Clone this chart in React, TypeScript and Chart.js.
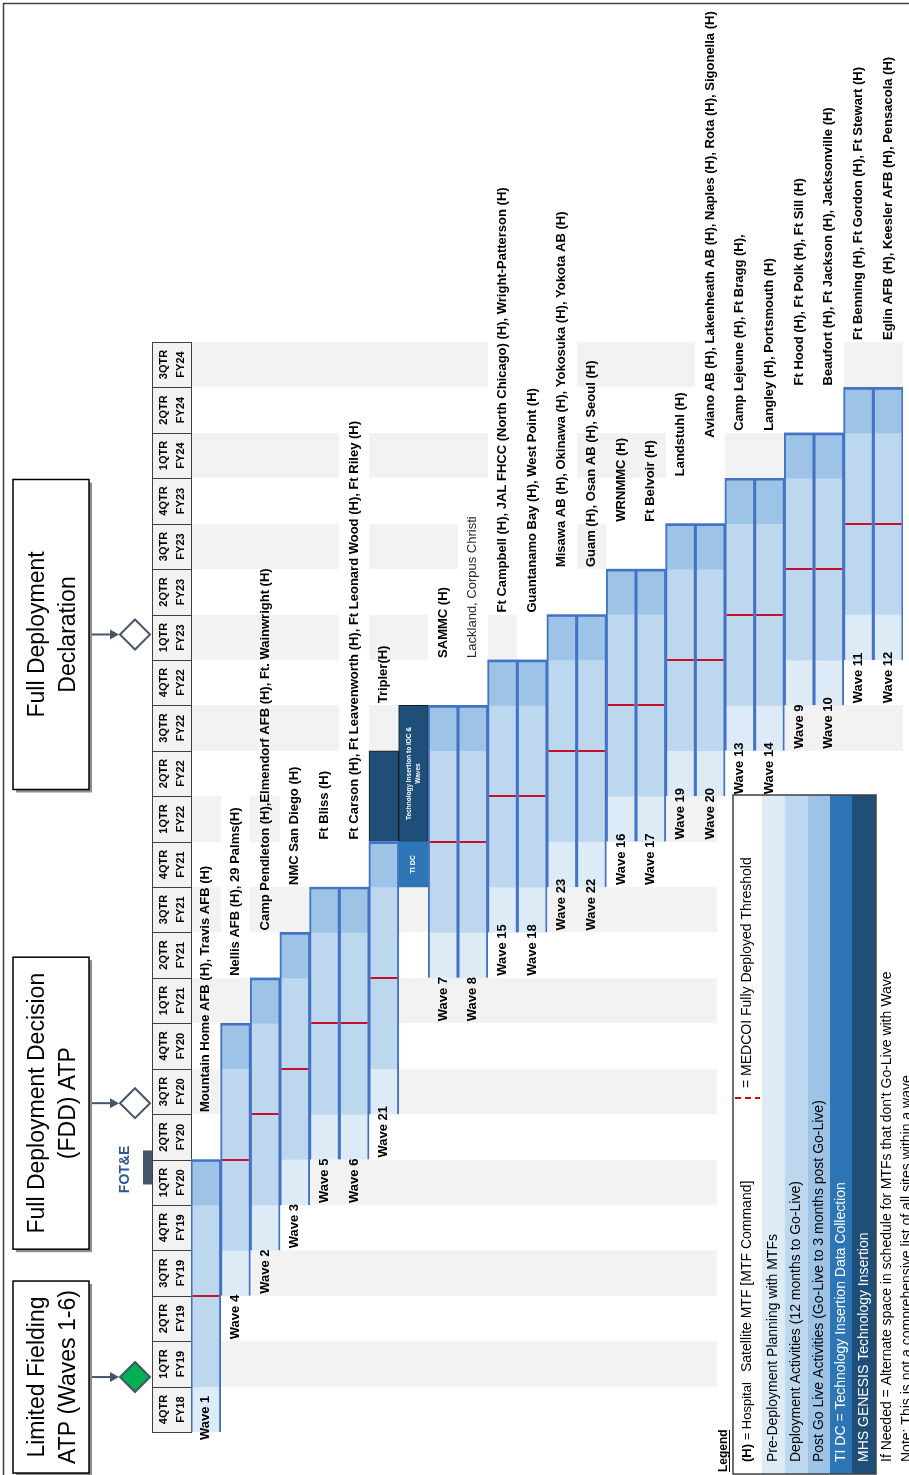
import React, { useEffect, useRef } from "react";
import { Chart, registerables } from "chart.js";

Chart.register(...registerables);

// ---------------- data ----------------
const quarterLabels = [
  "4QTR FY18", "1QTR FY19", "2QTR FY19", "3QTR FY19", "4QTR FY19",
  "1QTR FY20", "2QTR FY20", "3QTR FY20", "4QTR FY20",
  "1QTR FY21", "2QTR FY21", "3QTR FY21", "4QTR FY21",
  "1QTR FY22", "2QTR FY22", "3QTR FY22", "4QTR FY22",
  "1QTR FY23", "2QTR FY23", "3QTR FY23", "4QTR FY23",
  "1QTR FY24", "2QTR FY24", "3QTR FY24",
];

const columnLabels = [
  "Wave 1", "Wave 4", "Wave 2", "Wave 3", "Wave 5", "Wave 6", "Wave 21", "TI",
  "Wave 7", "Wave 8", "Wave 15", "Wave 18", "Wave 23", "Wave 22", "Wave 16", "Wave 17",
  "Wave 19", "Wave 20", "Wave 13", "Wave 14", "Wave 9", "Wave 10", "Wave 11", "Wave 12",
];

// quarter index (0 = 4QTR FY18) where each wave's pre-deployment planning starts
const waveStart: (number | null)[] = [
  0, 3, 4, 5, 6, 6, 7, null,
  10, 10, 11, 11, 12, 12, 13, 13,
  14, 14, 15, 15, 16, 16, 17, 17,
];

const preDeploymentQuarters = 1;
const deploymentQuarters = 4;
const postGoLiveQuarters = 1;
const medcoiThresholdOffset = 3; // quarters after wave start

const siteNames = [
  "Mountain Home AFB (H), Travis AFB (H)",
  "Nellis AFB (H), 29 Palms(H)",
  "Camp Pendleton (H),Elmendorf AFB (H), Ft. Wainwright (H)",
  "NMC San Diego (H)",
  "Ft Bliss (H)",
  "Ft Carson (H), Ft Leavenworth (H), Ft Leonard Wood (H), Ft Riley (H)",
  "Tripler(H)",
  "",
  "SAMMC (H)",
  "Lackland, Corpus Christi",
  "Ft Campbell (H), JAL FHCC (North Chicago) (H), Wright-Patterson (H)",
  "Guantanamo Bay (H), West Point (H)",
  "Misawa AB (H), Okinawa (H), Yokosuka (H), Yokota AB (H)",
  "Guam (H), Osan AB (H), Seoul (H)",
  "WRNMMC (H)",
  "Ft Belvoir (H)",
  "Landstuhl (H)",
  "Aviano AB (H), Lakenheath AB (H), Naples (H), Rota (H), Sigonella (H)",
  "Camp Lejeune (H), Ft Bragg (H),",
  "Langley (H), Portsmouth (H)",
  "Ft Hood (H), Ft Polk (H), Ft Sill (H)",
  "Beaufort (H), Ft Jackson (H), Jacksonville (H)",
  "Ft Benning (H), Ft Gordon (H), Ft Stewart (H)",
  "Eglin AFB (H), Keesler AFB (H), Pensacola (H)",
];

// quarter boundary where each site list begins
const siteStart: (number | null)[] = [
  7, 10, 11, 12, 13, 13, 16, null,
  17, 17, 18, 18, 19, 19, 20, 20,
  21, 21.85, 22, 22, 23, 23, 24, 24,
];

// technology insertion blocks: [from, to] in quarters, per column
const tiDataCollection: ([number, number] | null)[] = [
  null, null, null, null, null, null, null, [12, 13],
  null, null, null, null, null, null, null, null,
  null, null, null, null, null, null, null, null,
];
const mhsTechInsertion: ([number, number] | null)[] = [
  null, null, null, null, null, null, [13, 15], [13, 16],
  null, null, null, null, null, null, null, null,
  null, null, null, null, null, null, null, null,
];

const milestones = [
  { lines: ["Limited Fielding", "ATP (Waves 1-6)"], at: 1.21, done: true },
  { lines: ["Full Deployment Decision", "(FDD) ATP"], at: 7.24, done: false },
  { lines: ["Full Deployment", "Declaration"], at: 17.56, done: false },
];
const fotEAt = [5.45, 6.2];

const legendRows = [
  "Pre-Deployment Planning with MTFs",
  "Deployment Activities (12 months to Go-Live)",
  "Post Go Live Activities (Go-Live to 3 months post Go-Live)",
  "TI DC = Technology Insertion Data Collection",
  "MHS GENESIS Technology Insertion",
];

// odd-row cells that are left white (text cells) : [column, rows]
const whiteCells: [number, number[]][] = [
  [1, [11, 13]], [3, [13]], [4, [13]], [5, [13, 15, 17, 19, 21]],
  [8, [17]], [9, [17, 19]], [10, [19, 21, 23]], [11, [17, 19, 21, 23]],
  [12, [19, 21, 23]], [14, [19]], [15, [19]], [16, [21]], [17, [21, 23]],
  [18, [23]], [19, [23]], [20, [23]], [21, [23]],
];

// ---------------- styles ----------------
const FONT = "'Liberation Sans', Arial, sans-serif";
const C_PRE = "#DDEBF7";
const C_DEP = "#BDD7EE";
const C_POST = "#9DC3E6";
const C_TIDC = "#2E75B6";
const C_MHS = "#1F4E79";
const C_OUTLINE = "#4472C4";
const C_RED = "#C8102E";
const C_GRAY = "#F2F2F2";
const C_SLATE = "#44546A";

function vtext(
  ctx: CanvasRenderingContext2D,
  text: string,
  x: number,
  y: number,
  font: string,
  color: string,
  align: CanvasTextAlign = "left"
) {
  ctx.save();
  ctx.translate(x, y);
  ctx.rotate(-Math.PI / 2);
  ctx.font = font;
  ctx.fillStyle = color;
  ctx.textAlign = align;
  ctx.textBaseline = "middle";
  ctx.fillText(text, 0, 0);
  ctx.restore();
}

const whiteSet = new Set<string>();
whiteCells.forEach(([c, rows]) => rows.forEach((r) => whiteSet.add(c + ":" + r)));

const schedulePlugin = {
  id: "schedule",
  beforeDraw(chart: any) {
    const ctx = chart.ctx as CanvasRenderingContext2D;
    ctx.save();
    ctx.fillStyle = "#fff";
    ctx.fillRect(0, 0, chart.width, chart.height);
    ctx.restore();
  },
  beforeDatasetsDraw(chart: any) {
    const ctx = chart.ctx as CanvasRenderingContext2D;
    const { chartArea, scales } = chart;
    const xs = scales.x;
    const ys = scales.y;
    const n = columnLabels.length;
    const colW = (chartArea.right - chartArea.left) / n;
    const colLeft = (c: number) => xs.getPixelForValue(c) - colW / 2;
    const yp = (v: number) => ys.getPixelForValue(v);

    ctx.save();
    // alternating gray quarter rows
    ctx.fillStyle = C_GRAY;
    for (let r = 1; r < quarterLabels.length; r += 2) {
      const top = Math.round(yp(r + 1));
      const bot = Math.round(yp(r));
      for (let c = 0; c < n; c++) {
        if (whiteSet.has(c + ":" + r)) continue;
        const l = Math.round(colLeft(c));
        let rr = Math.round(colLeft(c + 1));
        if (r < 14) rr = Math.min(rr, 717);
        if (rr <= l) continue;
        ctx.fillRect(l, top, rr - l, bot - top);
      }
    }

    // quarter header column
    const hw = 39;
    const hx = chartArea.left - hw;
    quarterLabels.forEach((q, i) => {
      const top = Math.round(yp(i + 1));
      const bot = Math.round(yp(i));
      ctx.fillStyle = "#F2F2F2";
      ctx.fillRect(hx, top, hw, bot - top);
      ctx.strokeStyle = "#404040";
      ctx.lineWidth = 1;
      ctx.strokeRect(hx + 0.5, top + 0.5, hw, bot - top);
      const [a, b] = q.split(" ");
      const yc = (top + bot) / 2;
      vtext(ctx, a, hx + 12, yc, "bold 11px " + FONT, "#000", "center");
      vtext(ctx, b, hx + 28.5, yc, "bold 11px " + FONT, "#000", "center");
    });

    // milestone boxes, arrows, diamonds
    const boxL = 13;
    const boxR = 89;
    const boxH = [192, 292, 310];
    milestones.forEach((m, i) => {
      const yc = yp(m.at);
      const h = boxH[i];
      const t = yc - h / 2;
      ctx.fillStyle = "#8c8c8c";
      ctx.fillRect(boxL + 3, t + 3, boxR - boxL, h);
      ctx.fillStyle = "#fff";
      ctx.fillRect(boxL, t, boxR - boxL, h);
      ctx.strokeStyle = "#000";
      ctx.lineWidth = 1.5;
      ctx.strokeRect(boxL, t, boxR - boxL, h);
      vtext(ctx, m.lines[0], 38, yc, "23px " + FONT, "#000", "center");
      vtext(ctx, m.lines[1], 69, yc, "23px " + FONT, "#000", "center");
      // arrow
      ctx.strokeStyle = C_SLATE;
      ctx.fillStyle = C_SLATE;
      ctx.lineWidth = 2;
      ctx.beginPath();
      ctx.moveTo(boxR + 3, yc);
      ctx.lineTo(112, yc);
      ctx.stroke();
      ctx.beginPath();
      ctx.moveTo(119, yc);
      ctx.lineTo(110, yc - 5);
      ctx.lineTo(110, yc + 5);
      ctx.closePath();
      ctx.fill();
      // diamond
      const dx = 135;
      ctx.beginPath();
      ctx.moveTo(dx, yc - 15);
      ctx.lineTo(dx + 15, yc);
      ctx.lineTo(dx, yc + 15);
      ctx.lineTo(dx - 15, yc);
      ctx.closePath();
      ctx.fillStyle = m.done ? "#00B050" : "#fff";
      ctx.fill();
      ctx.strokeStyle = C_SLATE;
      ctx.lineWidth = 2;
      ctx.stroke();
    });

    // FOT&E
    const f0 = yp(fotEAt[0]);
    const f1 = yp(fotEAt[1]);
    ctx.fillStyle = C_SLATE;
    ctx.fillRect(143, f1, 9, f0 - f1);
    vtext(ctx, "FOT&E", 125, (f0 + f1) / 2 + 2, "bold 14px " + FONT, "#2F5597", "center");
    ctx.restore();
  },
  afterDatasetsDraw(chart: any) {
    const ctx = chart.ctx as CanvasRenderingContext2D;
    const { chartArea, scales } = chart;
    const xs = scales.x;
    const ys = scales.y;
    const n = columnLabels.length;
    const colW = (chartArea.right - chartArea.left) / n;
    const colLeft = (c: number) => xs.getPixelForValue(c) - colW / 2;
    const yp = (v: number) => ys.getPixelForValue(v);

    ctx.save();
    // MEDCOI threshold lines
    ctx.strokeStyle = C_RED;
    ctx.lineWidth = 2;
    waveStart.forEach((s, c) => {
      if (s == null) return;
      const yy = Math.round(yp(s + medcoiThresholdOffset));
      ctx.beginPath();
      ctx.moveTo(colLeft(c) + 1.5, yy);
      ctx.lineTo(colLeft(c) + colW - 1.5, yy);
      ctx.stroke();
    });

    // wave labels (below each bar)
    waveStart.forEach((s, c) => {
      if (s == null) return;
      const pos = Math.max(s - 1, -0.22);
      vtext(ctx, columnLabels[c], xs.getPixelForValue(c), yp(pos) - 2, "bold 13px " + FONT, "#000");
    });

    // site lists (above each bar)
    siteNames.forEach((name, c) => {
      const st = siteStart[c];
      if (!name || st == null) return;
      const regular = name.indexOf("(H)") < 0;
      vtext(
        ctx,
        name,
        xs.getPixelForValue(c),
        yp(st) - 2,
        (regular ? "" : "bold ") + "13px " + FONT,
        regular ? "#262626" : "#000"
      );
    });

    // technology insertion texts
    const tiCol = tiDataCollection.findIndex((v) => v != null);
    if (tiCol >= 0) {
      const span = tiDataCollection[tiCol]!;
      vtext(ctx, "TI DC", xs.getPixelForValue(tiCol), (yp(span[0]) + yp(span[1])) / 2, "bold 7px " + FONT, "#fff", "center");
    }
    const mhsCol = 7;
    const mspan = mhsTechInsertion[mhsCol];
    if (mspan) {
      const yc = (yp(mspan[0]) + yp(mspan[1])) / 2;
      const xc = xs.getPixelForValue(mhsCol);
      vtext(ctx, "Technology Insertion to IOC &", xc - 4, yc, "bold 6.5px " + FONT, "#fff", "center");
      vtext(ctx, "Waves", xc + 5, yc, "bold 6.5px " + FONT, "#fff", "center");
    }

    // legend
    const LX = [733, 762, 785, 808, 830, 852, 876];
    const LT = 795;
    const LB = 1474;
    const fills = [C_PRE, C_DEP, C_POST, C_TIDC, C_MHS];
    fills.forEach((f, i) => {
      ctx.fillStyle = f;
      ctx.fillRect(LX[i + 1], LT, LX[i + 2] - LX[i + 1], LB - LT);
    });
    ctx.strokeStyle = "#404040";
    ctx.lineWidth = 1.5;
    ctx.strokeRect(LX[0], LT, LX[6] - LX[0], LB - LT);
    const ty = 1462;
    const lf = "14px " + FONT;
    // first column
    const c0 = (LX[0] + LX[1]) / 2;
    ctx.save();
    ctx.font = "bold 13px " + FONT;
    const hw = ctx.measureText("(H)").width;
    ctx.restore();
    vtext(ctx, "(H)", c0, ty, "bold 13px " + FONT, "#000");
    vtext(ctx, " = Hospital", c0, ty - hw, "13px " + FONT, "#000");
    vtext(ctx, "Satellite MTF [MTF Command]", c0, 1372, lf, "#000");
    ctx.strokeStyle = "#E00000";
    ctx.lineWidth = 2;
    ctx.setLineDash([6, 4]);
    ctx.beginPath();
    ctx.moveTo(LX[0] + 2, 1098);
    ctx.lineTo(LX[1] - 2, 1098);
    ctx.stroke();
    ctx.setLineDash([]);
    vtext(ctx, "= MEDCOI Fully Deployed Threshold", c0, 1088, lf, "#000");
    legendRows.forEach((t, i) => {
      vtext(ctx, t, (LX[i + 1] + LX[i + 2]) / 2, ty, lf, i >= 3 ? "#fff" : "#000");
    });
    vtext(ctx, "If Needed = Alternate space in schedule for MTFs that don't Go-Live with Wave", 887, ty, lf, "#000");
    vtext(ctx, "Note: This is not a comprehensive list of all sites within a wave", 907, ty, lf, "#000");
    vtext(ctx, "Legend", 724, 1472, "bold 12px " + FONT, "#000");
    ctx.fillStyle = "#000";
    ctx.fillRect(729, 1430, 1, 42);

    // outer frame
    ctx.strokeStyle = "#404040";
    ctx.lineWidth = 1.5;
    ctx.strokeRect(3.5, 3.5, 920, 1490);
    ctx.restore();
  },
};

export default function App() {
  const ref = useRef<HTMLCanvasElement>(null);

  useEffect(() => {
    const canvas = ref.current;
    if (!canvas) return;
    const pre = waveStart.map((s) => (s == null ? null : [s, s + preDeploymentQuarters]));
    const dep = waveStart.map((s) =>
      s == null ? null : [s + preDeploymentQuarters, s + preDeploymentQuarters + deploymentQuarters]
    );
    const post = waveStart.map((s) =>
      s == null
        ? null
        : [
            s + preDeploymentQuarters + deploymentQuarters,
            s + preDeploymentQuarters + deploymentQuarters + postGoLiveQuarters,
          ]
    );
    const outline = waveStart.map((s) =>
      s == null ? null : [s, s + preDeploymentQuarters + deploymentQuarters + postGoLiveQuarters]
    );

    const common = { grouped: false, barPercentage: 1, categoryPercentage: 1 };
    const chart = new Chart(canvas, {
      type: "bar",
      data: {
        labels: columnLabels,
        datasets: [
          {
            ...common,
            label: "Wave",
            data: outline as any,
            backgroundColor: "rgba(0,0,0,0)",
            borderColor: C_OUTLINE,
            borderWidth: { top: 2, left: 1.2, right: 1.2, bottom: 0 } as any,
            borderSkipped: false,
          },
          { ...common, label: "Post Go Live Activities", data: post as any, backgroundColor: C_POST, borderWidth: 0 },
          { ...common, label: "Deployment Activities", data: dep as any, backgroundColor: C_DEP, borderWidth: 0 },
          { ...common, label: "Pre-Deployment Planning", data: pre as any, backgroundColor: C_PRE, borderWidth: 0 },
          {
            ...common,
            label: "TI DC",
            data: tiDataCollection as any,
            backgroundColor: C_TIDC,
            borderWidth: 0,
          },
          {
            ...common,
            label: "MHS GENESIS Technology Insertion",
            data: mhsTechInsertion as any,
            backgroundColor: C_MHS,
            borderColor: "#1a1a1a",
            borderWidth: 1,
            borderSkipped: false,
          },
        ] as any,
      },
      options: {
        responsive: false,
        maintainAspectRatio: false,
        animation: false,
        layout: { padding: { left: 191, right: 6, top: 342, bottom: 43 } },
        plugins: { legend: { display: false }, tooltip: { enabled: false }, title: { display: false } },
        scales: {
          x: { type: "category", display: false, offset: true, grid: { display: false } },
          y: { type: "linear", display: false, min: 0, max: quarterLabels.length, grid: { display: false } },
        },
      },
      plugins: [schedulePlugin],
    });
    return () => chart.destroy();
  }, []);

  return (
    <div style={{ position: "absolute", left: 0, top: 0, width: 909, height: 1475, background: "#fff", overflow: "hidden" }}>
      <canvas ref={ref} width={909} height={1475} style={{ display: "block", width: 909, height: 1475 }} />
    </div>
  );
}
